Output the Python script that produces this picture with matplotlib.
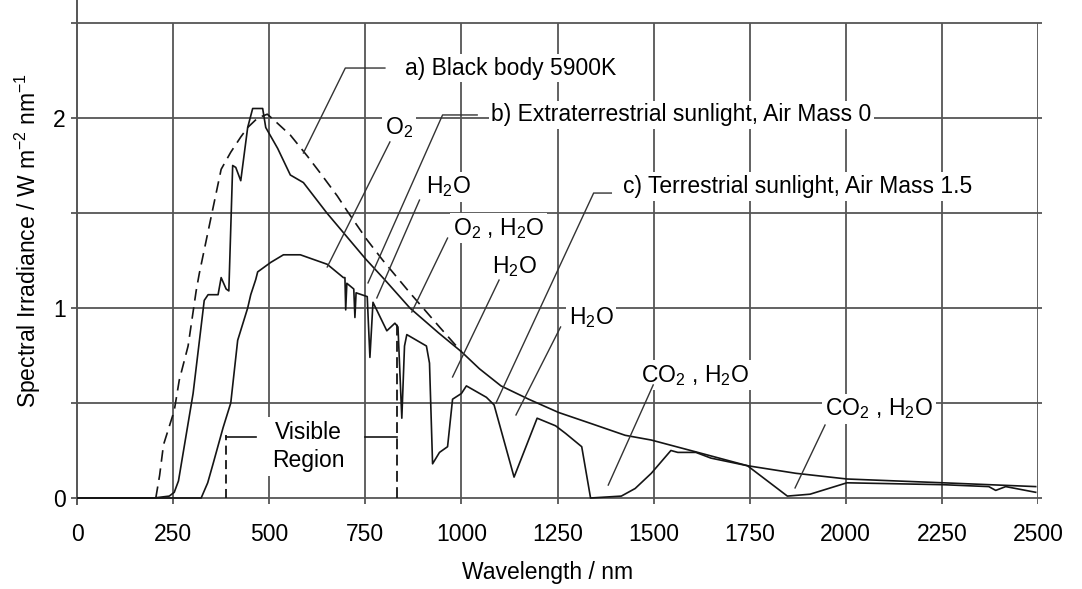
import matplotlib
matplotlib.use("Agg")
import matplotlib.pyplot as plt

plt.rcParams['font.family'] = ['Liberation Sans', 'DejaVu Sans']
plt.rcParams['mathtext.fontset'] = 'custom'
plt.rcParams['mathtext.rm'] = 'Liberation Sans'
plt.rcParams['mathtext.it'] = 'Liberation Sans'
plt.rcParams['mathtext.bf'] = 'Liberation Sans'

# a) black body 5900K (dashed), stops where it joins curve b
bb_nm = [205, 215, 225, 253, 266, 289, 310, 318, 349, 375, 400, 426, 444, 470, 495,
         512, 555, 599, 633, 677, 703, 754, 796, 866, 943, 1000]
bb_y = [0.0, 0.12, 0.28, 0.46, 0.62, 0.80, 1.09, 1.18, 1.48, 1.73, 1.82, 1.90, 1.95, 2.00, 2.02,
        1.99, 1.91, 1.80, 1.71, 1.59, 1.51, 1.36, 1.25, 1.08, 0.90, 0.77]

# b) extraterrestrial sunlight, AM0
am0_nm = [0, 200, 240, 253, 264, 302, 331, 341, 367, 375, 388, 395, 405, 413, 426, 444,
          457, 483, 491, 522, 555, 589, 650, 700, 750, 800, 866, 940, 1000, 1047, 1103,
          1175, 1253, 1340, 1426, 1494, 1615, 1744, 1870, 2003, 2253, 2494]
am0_y = [0.0, 0.0, 0.01, 0.03, 0.09, 0.55, 1.04, 1.07, 1.07, 1.16, 1.10, 1.09, 1.75, 1.74, 1.67, 1.95,
         2.05, 2.05, 1.95, 1.84, 1.70, 1.66, 1.50, 1.38, 1.26, 1.15, 1.00, 0.87, 0.77, 0.68, 0.59,
         0.52, 0.45, 0.39, 0.33, 0.305, 0.24, 0.17, 0.13, 0.10, 0.08, 0.06]

# c) terrestrial sunlight, AM1.5
am15_nm = [0, 323, 340, 354, 380, 400, 418, 444, 452, 465, 470, 504, 537, 581, 651, 693,
           697, 699, 702, 720, 723, 726, 755, 762, 770, 806, 827, 835, 845, 852, 858,
           909, 917, 925, 943, 964, 977, 1000, 1013, 1065, 1085, 1137, 1197, 1245, 1271,
           1313, 1336, 1416, 1452, 1494, 1545, 1563, 1610, 1649, 1744, 1848, 1907, 2003,
           2253, 2372, 2390, 2416, 2494]
am15_y = [0.0, 0.0, 0.08, 0.18, 0.37, 0.50, 0.83, 1.00, 1.07, 1.15, 1.19, 1.24, 1.28, 1.28, 1.23, 1.16,
          1.16, 0.99, 1.13, 1.10, 0.95, 1.08, 1.06, 0.74, 1.03, 0.88, 0.92, 0.90, 0.42, 0.80, 0.86,
          0.80, 0.71, 0.18, 0.24, 0.27, 0.52, 0.55, 0.59, 0.53, 0.49, 0.11, 0.42, 0.38, 0.34,
          0.27, 0.0, 0.01, 0.05, 0.13, 0.25, 0.24, 0.24, 0.21, 0.17, 0.01, 0.02, 0.08,
          0.07, 0.06, 0.04, 0.06, 0.03]

x_ticks = [0, 250, 500, 750, 1000, 1250, 1500, 1750, 2000, 2250, 2500]
y_ticks = [0, 1, 2]
h_grid = [0, 0.5, 1.0, 1.5, 2.0, 2.5]

# labels: text, text position, pointer path
labels = [
    ("a) Black body 5900K", (853, 2.263), [(801, 2.263), (698, 2.263), (589, 1.816)]),
    ("b) Extraterrestrial sunlight, Air Mass 0", (1078, 2.016), [(1041, 2.016), (951, 2.016), (757, 1.132)]),
    ("c) Terrestrial sunlight, Air Mass 1.5", (1421, 1.64), [(1390, 1.605), (1344, 1.605), (1090, 0.50)]),
    ("O$_2$", (801, 1.95), [(814, 1.874), (651, 1.216)]),
    ("H$_2$O", (907, 1.637), [(891, 1.568), (780, 1.053)]),
    ("O$_2$ , H$_2$O", (977, 1.42), [(964, 1.368), (871, 0.979)]),
    ("H$_2$O", (1080, 1.216), [(1098, 1.147), (977, 0.637)]),
    ("H$_2$O", (1279, 0.95), [(1258, 0.90), (1142, 0.437)]),
    ("CO$_2$ , H$_2$O", (1468, 0.647), [(1499, 0.595), (1382, 0.068)]),
    ("CO$_2$ , H$_2$O", (1946, 0.47), [(1946, 0.384), (1868, 0.053)]),
]

ink = '#151515'
grid_c = '#555555'
fs = 16.5

fig = plt.figure(figsize=(10.82, 5.89), dpi=100)
ax = fig.add_axes([77 / 1082, 1 - 503.7 / 589, 961 / 1082, 503.5 / 589])
ax.set_xlim(0, 2500)
ax.set_ylim(-0.03, 2.62)

for s in ['top', 'right', 'bottom']:
    ax.spines[s].set_visible(False)
ax.spines['left'].set_color(grid_c)
ax.spines['left'].set_linewidth(1.4)

# grid drawn by hand so it stops at 2.5 like the scan
ax.vlines(x_ticks[1:], -0.04, 2.5, color=grid_c, lw=1.3, zorder=0)
ax.hlines(h_grid, -15, 2510, color=grid_c, lw=1.3, zorder=0, clip_on=False)

ax.set_xticks(x_ticks)
ax.set_xticklabels([str(v) for v in x_ticks])
ax.set_yticks(y_ticks)
ax.set_yticklabels([str(v) for v in y_ticks])
ax.tick_params(axis='x', length=0, pad=14, labelsize=fs)
ax.tick_params(axis='y', length=0, pad=8, labelsize=fs)

ax.plot(bb_nm, bb_y, color=ink, lw=1.2, dashes=(7, 4), zorder=3)
ax.plot(am0_nm, am0_y, color=ink, lw=1.2, zorder=3)
ax.plot(am15_nm, am15_y, color=ink, lw=1.2, zorder=3)

# visible region markers
ax.plot([388, 388], [0, 0.33], color=ink, lw=1.3, dashes=(5, 3), zorder=3)
ax.plot([388, 465], [0.32, 0.32], color=ink, lw=1.2, zorder=3)
ax.plot([749, 832], [0.32, 0.32], color=ink, lw=1.2, zorder=3)
ax.plot([832, 832], [0, 0.92], color=ink, lw=1.3, dashes=(6, 3), zorder=3)
ax.text(602, 0.27, "Visible\nRegion", ha='center', va='center', fontsize=fs,
        linespacing=1.25, bbox=dict(facecolor='white', edgecolor='none', pad=3), zorder=2)

for txt, pos, path in labels:
    ax.text(pos[0], pos[1], txt, ha='left', va='center', fontsize=fs, zorder=2,
            bbox=dict(facecolor='white', edgecolor='none', pad=2))
    ax.plot([p[0] for p in path], [p[1] for p in path], color='#333333', lw=1.0, zorder=4)

fig.text(28 / 1082, 1 - 240 / 589, "Spectral Irradiance / W m$^{-2}$ nm$^{-1}$",
         rotation=90, ha='center', va='center', fontsize=fs)
fig.text(548 / 1082, 1 - 572 / 589, "Wavelength / nm", ha='center', va='center', fontsize=fs)

fig.savefig("out.png", dpi=100)
